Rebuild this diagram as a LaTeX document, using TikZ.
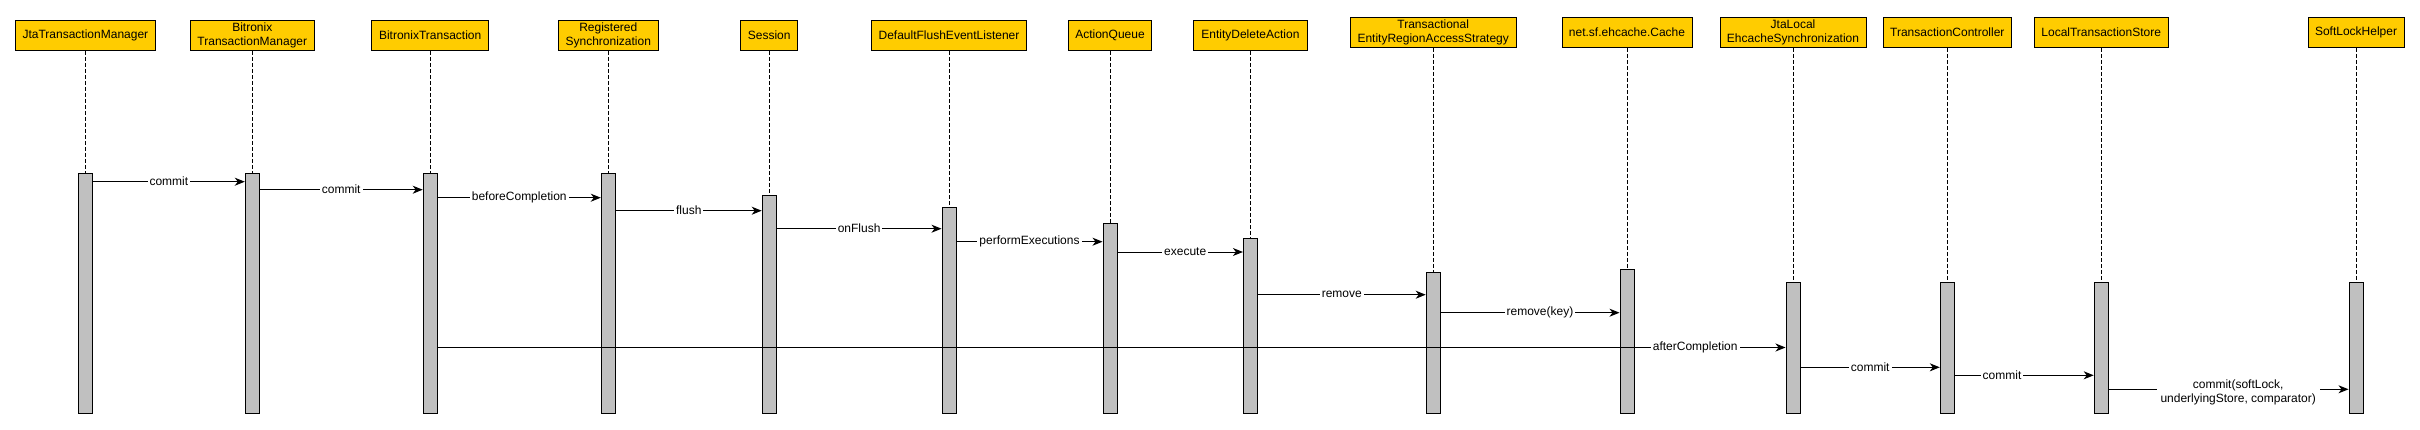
\documentclass[tikz,border=0pt]{standalone}
\usepackage{fontspec}
\setmainfont{Liberation Sans}
\usepackage{tikz}
\usetikzlibrary{arrows,arrows.meta}
\definecolor{boxgold}{HTML}{FFCC00}
\definecolor{bargray}{HTML}{C0C0C0}
\tikzstyle{actor} = [draw, fill=boxgold, line width=1pt, align=center, minimum height=30, inner sep=2pt]
\tikzstyle{bar} = [draw, fill=bargray, line width=1pt, anchor=north, minimum width=14, inner sep=0pt]
\tikzset{
  life/.style ={draw, line width=1pt, dash pattern=on 4pt off 2pt},
  call/.style ={draw, line width=1pt, -{Stealth[length=10pt,width=8pt,inset=3pt]}},
  lbl/.style ={fill=white, align=center, inner xsep=2pt, inner ysep=1pt}
}

\begin{document}
\begin{tikzpicture}[x=1pt,y=1pt,font=\fontsize{12}{14}\selectfont]
	\useasboundingbox (0,0) rectangle (2420,-429);
	% participants
	\node[actor, minimum width=140] (jta) at (85.4,-35.3) {JtaTransactionManager};
	\node[actor, minimum width=123.5] (btm) at (252.3,-35.3) {Bitronix\\TransactionManager};
	\node[actor, minimum width=117.5] (bt) at (430.2,-35.3) {BitronixTransaction};
	\node[actor, minimum width=100] (rs) at (608.3,-35.3) {Registered\\Synchronization};
	\node[actor, minimum width=57] (ses) at (769.2,-35.3) {Session};
	\node[actor, minimum width=155] (dfel) at (949,-35.3) {DefaultFlushEventListener};
	\node[actor, minimum width=83] (aq) at (1110,-35.3) {ActionQueue};
	\node[actor, minimum width=114] (eda) at (1250.4,-35.3) {EntityDeleteAction};
	\node[actor, minimum width=166] (eras) at (1433.2,-32.3) {Transactional\\EntityRegionAccessStrategy};
	\node[actor, minimum width=130] (cache) at (1627,-32.3) {net.sf.ehcache.Cache};
	\node[actor, minimum width=146] (jles) at (1793,-32.3) {JtaLocal\\EhcacheSynchronization};
	\node[actor, minimum width=128.5] (tc) at (1947.3,-32.3) {TransactionController};
	\node[actor, minimum width=134] (lts) at (2101.2,-32.3) {LocalTransactionStore};
	\node[actor, minimum width=96] (slh) at (2356,-32.3) {SoftLockHelper};

	% activation bars
	\node[bar, minimum height=240] (jtab) at (jta.south |- 0,-173.3) {};
	\node[bar, minimum height=240] (btmb) at (btm.south |- 0,-173.3) {};
	\node[bar, minimum height=240] (btb) at (bt.south |- 0,-173.3) {};
	\node[bar, minimum height=240] (rsb) at (rs.south |- 0,-173.3) {};
	\node[bar, minimum height=218.3] (sesb) at (ses.south |- 0,-195) {};
	\node[bar, minimum height=206] (dfelb) at (dfel.south |- 0,-207.3) {};
	\node[bar, minimum height=190] (aqb) at (aq.south |- 0,-223.3) {};
	\node[bar, minimum height=175] (edab) at (eda.south |- 0,-238.3) {};
	\node[bar, minimum height=141] (erasb) at (eras.south |- 0,-272.3) {};
	\node[bar, minimum height=144] (cacheb) at (cache.south |- 0,-269.3) {};
	\node[bar, minimum height=131] (jlesb) at (jles.south |- 0,-282.3) {};
	\node[bar, minimum height=131] (tcb) at (tc.south |- 0,-282.3) {};
	\node[bar, minimum height=131] (ltsb) at (lts.south |- 0,-282.3) {};
	\node[bar, minimum height=131] (slhb) at (slh.south |- 0,-282.3) {};

	% lifelines
	\draw[life] (jta) -- (jtab);
	\draw[life] (btm) -- (btmb);
	\draw[life] (bt) -- (btb);
	\draw[life] (rs) -- (rsb);
	\draw[life] (ses) -- (sesb);
	\draw[life] (dfel) -- (dfelb);
	\draw[life] (aq) -- (aqb);
	\draw[life] (eda) -- (edab);
	\draw[life] (eras) -- (erasb);
	\draw[life] (cache) -- (cacheb);
	\draw[life] (jles) -- (jlesb);
	\draw[life] (tc) -- (tcb);
	\draw[life] (lts) -- (ltsb);
	\draw[life] (slh) -- (slhb);

	% messages
	\draw[call] (jtab.east |- 0,-181.7) -- node[lbl] {commit} (btmb.west |- 0,-181.7);
	\draw[call] (btmb.east |- 0,-189.7) -- node[lbl] {commit} (btb.west |- 0,-189.7);
	\draw[call] (btb.east |- 0,-197.7) -- node[lbl] {beforeCompletion} (rsb.west |- 0,-197.7);
	\draw[call] (rsb.east |- 0,-210.7) -- node[lbl] {flush} (sesb.west |- 0,-210.7);
	\draw[call] (sesb.east |- 0,-228.7) -- node[lbl] {onFlush} (dfelb.west |- 0,-228.7);
	\draw[call] (dfelb.east |- 0,-241.7) -- node[lbl] {performExecutions} (aqb.west |- 0,-241.7);
	\draw[call] (aqb.east |- 0,-252) -- node[lbl, pos=0.54] {execute} (edab.west |- 0,-252);
	\draw[call] (edab.east |- 0,-294.7) -- node[lbl] {remove} (erasb.west |- 0,-294.7);
	\draw[call] (erasb.east |- 0,-312.7) -- node[lbl, pos=0.555] {remove(key)} (cacheb.west |- 0,-312.7);
	\draw[call] (btb.east |- 0,-347.5) -- node[lbl, pos=0.933] {afterCompletion} (jlesb.west |- 0,-347.5);
	\draw[call] (jlesb.east |- 0,-367.3) -- node[lbl] {commit} (tcb.west |- 0,-367.3);
	\draw[call] (tcb.east |- 0,-375.3) -- node[lbl, pos=0.34] {commit} (ltsb.west |- 0,-375.3);
	\draw[call] (ltsb.east |- 0,-389.3) -- node[lbl, pos=0.54, yshift=-3pt, inner xsep=4pt] {commit(softLock,\\underlyingStore, comparator)} (slhb.west |- 0,-389.3);

\end{tikzpicture}
\end{document}
